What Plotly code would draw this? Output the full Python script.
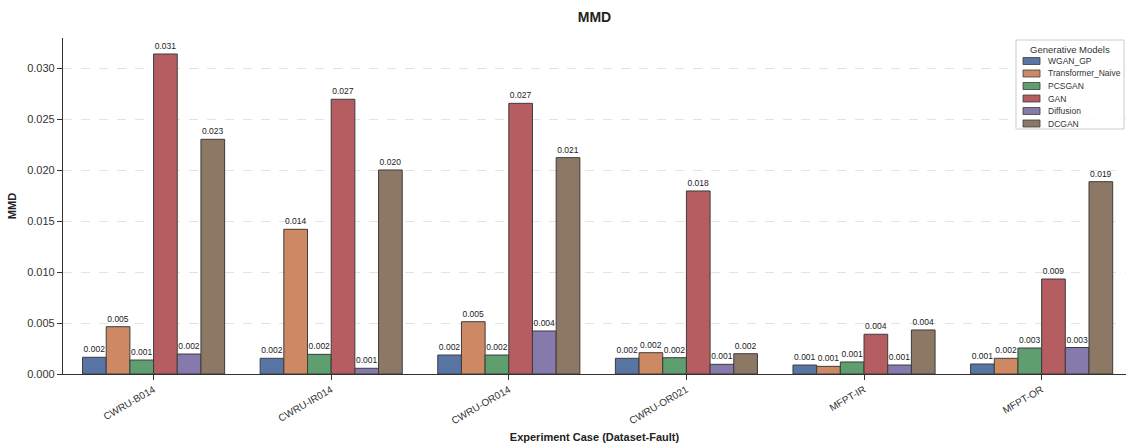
import plotly.graph_objects as go

# Experiment cases (dataset-fault) and MMD per generative model
cases = ["CWRU-B014", "CWRU-IR014", "CWRU-OR014", "CWRU-OR021", "MFPT-IR", "MFPT-OR"]

wgan_gp = [0.00164, 0.00154, 0.00186, 0.00154, 0.00088, 0.00098]
transformer_naive = [0.00464, 0.0142, 0.00513, 0.00209, 0.00075, 0.00154]
pcsgan = [0.00137, 0.00193, 0.00186, 0.0016, 0.00118, 0.00255]
gan = [0.0314, 0.02696, 0.02656, 0.01796, 0.0039, 0.00932]
diffusion = [0.00196, 0.00056, 0.00422, 0.00095, 0.00088, 0.0026]
dcgan = [0.02303, 0.02002, 0.02123, 0.00199, 0.00432, 0.01887]

models = ["WGAN_GP", "Transformer_Naive", "PCSGAN", "GAN", "Diffusion", "DCGAN"]
series = [wgan_gp, transformer_naive, pcsgan, gan, diffusion, dcgan]
colors = ["#5875A4", "#CC8963", "#5F9E6E", "#B55D60", "#857AAB", "#8D7866"]

FONT = "Liberation Sans, Arial, sans-serif"
EDGE = "#3c3c3c"

W, H = 1126, 445
ML, MR, MT, MB = 63, 0, 38, 71
PW, PH = W - ML - MR, H - MT - MB


def px_x(px):
    """Pixel column -> paper x."""
    return (px - ML) / PW


def px_y(py):
    """Pixel row (from top) -> paper y."""
    return (H - MB - py) / PH


fig = go.Figure()
for name, vals, col in zip(models, series, colors):
    fig.add_trace(go.Bar(
        name=name,
        x=cases,
        y=vals,
        marker=dict(color=col, line=dict(color=EDGE, width=1)),
        texttemplate="%{y:.3f}",
        textposition="outside",
        textfont=dict(size=8.5, color="#222222", family=FONT),
        constraintext="none",
        cliponaxis=False,
        showlegend=False,
    ))

# Compact legend box in the upper-right corner
shapes = [dict(
    type="rect", xref="paper", yref="paper",
    x0=px_x(1016), x1=px_x(1124), y0=px_y(129), y1=px_y(40),
    line=dict(color="#cccccc", width=1), fillcolor="rgba(255,255,255,0.85)",
    layer="above",
)]
annotations = [dict(
    xref="paper", yref="paper", x=px_x(1070), y=px_y(49.5),
    text="Generative Models", showarrow=False, xanchor="center", yanchor="middle",
    font=dict(size=9.5, color="#333333", family=FONT),
)]
for i, (name, col) in enumerate(zip(models, colors)):
    cy = 61 + i * 12.5
    shapes.append(dict(
        type="rect", xref="paper", yref="paper",
        x0=px_x(1023), x1=px_x(1040), y0=px_y(cy + 3.5), y1=px_y(cy - 3.5),
        line=dict(color=EDGE, width=0.8), fillcolor=col, layer="above",
    ))
    annotations.append(dict(
        xref="paper", yref="paper", x=px_x(1046), y=px_y(cy),
        text=name, showarrow=False, xanchor="left", yanchor="middle",
        font=dict(size=8.5, color="#333333", family=FONT),
    ))

fig.update_layout(
    width=W,
    height=H,
    barmode="group",
    bargap=0.2,
    bargroupgap=0,
    plot_bgcolor="white",
    paper_bgcolor="white",
    font=dict(family=FONT, color="#333333"),
    margin=dict(l=ML, r=MR, t=MT, b=MB),
    title=dict(
        text="<b>MMD</b>",
        x=0.528, xanchor="center",
        y=0.962, yanchor="middle",
        font=dict(size=14, color="#222222", family=FONT),
    ),
    showlegend=False,
    shapes=shapes,
    annotations=annotations,
)

fig.update_xaxes(
    range=[-0.51, 5.475],
    showline=True, linecolor="#333333", linewidth=1.2,
    ticks="outside", ticklen=5, tickcolor="#333333",
    tickangle=-30,
    tickfont=dict(size=10, color="#333333"),
    showgrid=False,
    title=dict(text="<b>Experiment Case (Dataset-Fault)</b>", font=dict(size=11, color="#222222"), standoff=8),
)

fig.update_yaxes(
    range=[0, 0.03297],
    tickvals=[0, 0.005, 0.01, 0.015, 0.02, 0.025, 0.03],
    tickformat=".3f",
    showline=True, linecolor="#333333", linewidth=1.2,
    ticks="outside", ticklen=5, tickcolor="#333333",
    tickfont=dict(size=11, color="#333333"),
    showgrid=True, gridcolor="#e3e3e3", griddash="dash", gridwidth=1,
    zeroline=False,
    title=dict(text="<b>MMD</b>", font=dict(size=11, color="#222222"), standoff=8),
)

fig.write_html("out.html")
